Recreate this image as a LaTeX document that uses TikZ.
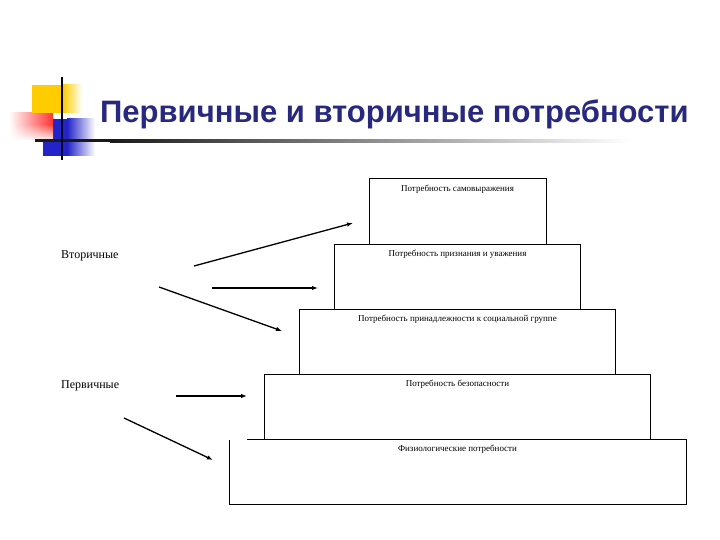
\documentclass[tikz,border=0pt]{standalone}
\usepackage{fontspec}
\setmainfont{Liberation Serif}
\newfontfamily\titlefont{Liberation Sans}
\usetikzlibrary{arrows.meta, positioning, fadings}
\definecolor{titlenavy}{HTML}{28287E}
\definecolor{decoyellow}{HTML}{FFCC00}
\definecolor{decored}{HTML}{FF3333}
\definecolor{decoblue}{HTML}{2323C8}

\begin{document}
\begin{tikzpicture}[x=1pt, y=-1pt,
  node distance=0pt,
  level/.style={draw, line width=1pt, minimum height=65pt, inner sep=0pt, outer sep=0pt},
  leveltext/.style={font=\fontsize{9}{10}\selectfont, inner sep=0pt},
  side/.style={font=\fontsize{12}{14}\selectfont, anchor=west, inner sep=0pt},
  arr/.style={-{Latex[length=6pt, width=4.5pt]}, line width=1.3pt},
]
  \useasboundingbox (0,0) rectangle (720,540);

  % Title decoration
  \fill[decoblue] (43,119) rectangle (67,156);
  \shade[left color=decoblue, right color=white] (67,119) rectangle (95,156);
  \shade[left color=white, right color=decored] (9,113) rectangle (53,140);
  \fill[white, path fading=north] (9,124) rectangle (53,141);
  \fill[decoyellow] (32,85) rectangle (63,113);
  \shade[left color=decoyellow, right color=white] (63,85) rectangle (82,113);
  \fill[black!90] (35,139.5) rectangle (110,142.5);
  \shade[left color=black!90, right color=white] (110,139.5) rectangle (630,142.5);
  \draw[line width=2pt, black!85!blue] (62,77) -- (62,160);

  % Title
  \node[anchor=base west, inner sep=0pt, text=titlenavy,
        font=\titlefont\bfseries\fontsize{31}{35}\selectfont] (title) at (100,123)
        {Первичные и вторичные потребности};

  % Pyramid
  \node[level, minimum width=177pt] (self) at (457.5,211.5) {};
  \node[level, minimum width=246pt, below=of self] (esteem) {};
  \node[level, minimum width=316pt, below=of esteem] (social) {};
  \node[level, minimum width=386pt, below=of social] (safety) {};
  \node[level, draw=none, minimum width=457pt, below=of safety] (physio) {};
  \draw[line width=1pt] ([yshift=-1pt]physio.north west) -- (physio.south west)
    -- (physio.south east) -- (physio.north east) -- ([xshift=18pt]physio.north west);

  \node[leveltext, below=6pt of self.north] (selft) {Потребность самовыражения};
  \node[leveltext, below=6pt of esteem.north] (esteemt) {Потребность признания и уважения};
  \node[leveltext, below=6pt of social.north] (socialt) {Потребность принадлежности к социальной группе};
  \node[leveltext, below=6pt of safety.north] (safetyt) {Потребность безопасности};
  \node[leveltext, below=6pt of physio.north] (physiot) {Физиологические потребности};

  % Side labels
  \node[side] (second) at (61,256) {Вторичные};
  \node[side] (prime) at (61,386) {Первичные};

  % Arrows
  \coordinate (sec1) at (194,266); \coordinate (sec1e) at (353,223);
  \coordinate (sec2) at (212,288); \coordinate (sec2e) at (318,288);
  \coordinate (sec3) at (159,287); \coordinate (sec3e) at (282,331);
  \coordinate (prim1) at (176,396); \coordinate (prim1e) at (247,396);
  \coordinate (prim2) at (124,418); \coordinate (prim2e) at (213,460);
  \draw[arr] (sec1) -- (sec1e);
  \draw[arr] (sec2) -- (sec2e);
  \draw[arr] (sec3) -- (sec3e);
  \draw[arr] (prim1) -- (prim1e);
  \draw[arr] (prim2) -- (prim2e);
\end{tikzpicture}
\end{document}
